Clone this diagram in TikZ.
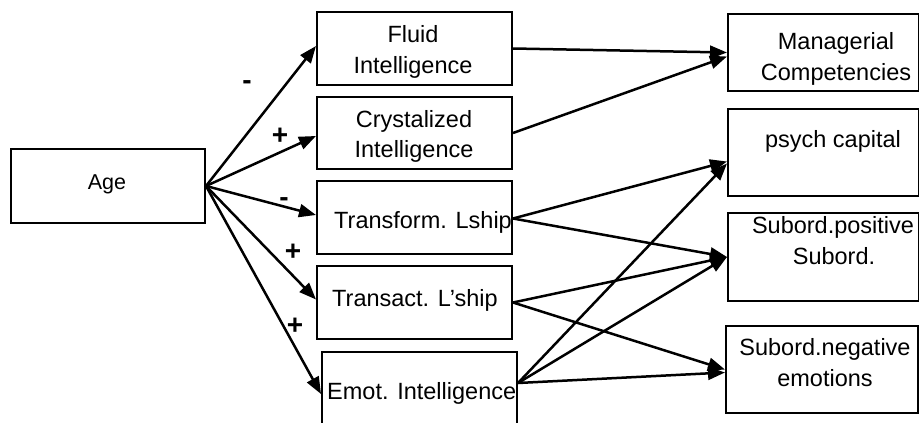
\documentclass[tikz,border=0pt]{standalone}
\usepackage{fontspec}
\setmainfont{Liberation Sans}
\usetikzlibrary{arrows.meta}
\tikzstyle{qbox}=[rectangle, draw, line width=2pt, anchor=north west, inner sep=0pt]
\tikzstyle{qtxt}=[anchor=base, inner sep=0pt, font=\fontsize{23.5}{31}\selectfont]
\tikzstyle{qsgn}=[inner sep=0pt, font=\fontsize{28}{32}\selectfont\bfseries]
\tikzstyle{qarr}=[line width=2.5pt, -{Triangle[length=17pt,width=13pt]}]

\begin{document}
\begin{tikzpicture}[x=1pt,y=-1pt]
  \useasboundingbox (0,0) rectangle (919,423);
  % left box
  \node[qbox, minimum width=194pt, minimum height=74pt] (age) at (10,148) {};
  \node[qtxt, font=\fontsize{21.5}{28}\selectfont] (agetxt) at (107,189) {Age};
  % middle column
  \node[qbox, minimum width=195pt, minimum height=73pt] (fluid) at (316,11) {};
  \node[qbox, minimum width=195pt, minimum height=72pt] (crys) at (316,96) {};
  \node[qbox, minimum width=195pt, minimum height=73pt] (trf) at (316,180) {};
  \node[qbox, minimum width=195pt, minimum height=73pt] (trs) at (316,265) {};
  \node[qbox, minimum width=195pt, minimum height=75pt] (emot) at (321,351) {};
  \node[qtxt] (fluidA) at (413,42) {Fluid};
  \node[qtxt] (fluidB) at (413,73) {Intelligence};
  \node[qtxt] (crysA) at (414,127) {Crystalized};
  \node[qtxt] (crysB) at (414,157) {Intelligence};
  \node[qtxt, anchor=base west] (trftxt) at (334,228) {Transform. Lship};
  \node[qtxt, anchor=base west] (trstxt) at (332,306) {Transact. L’ship};
  \node[qtxt, anchor=base west] (emottxt) at (327,399) {Emot. Intelligence};
  % right column
  \node[qbox, minimum width=191pt, minimum height=77pt] (mgr) at (727,13) {};
  \node[qbox, minimum width=191pt, minimum height=87pt] (psy) at (727,108) {};
  \node[qbox, minimum width=191pt, minimum height=88pt] (pos) at (727,212) {};
  \node[qbox, minimum width=192pt, minimum height=87pt] (neg) at (725,325) {};
  \node[qtxt] (mgrA) at (836,49) {Managerial};
  \node[qtxt] (mgrB) at (836,80) {Competencies};
  \node[qtxt] (psytxt) at (833,147) {psych capital};
  \node[qtxt] (posA) at (833,233) {Subord.positive};
  \node[qtxt] (posB) at (834,264) {Subord.};
  \node[qtxt] (negA) at (825,355) {Subord.negative};
  \node[qtxt] (negB) at (825,386) {emotions};

  % age paths
  \draw[qarr] (age.east) -- ([yshift=2.5pt]fluid.west);
  \draw[qarr] (age.east) -- ([yshift=-3pt]crys.west);
  \draw[qarr] (age.east) -- ([yshift=2.5pt]trf.west);
  \draw[qarr] (age.east) -- ([yshift=3pt]trs.west);
  \draw[qarr] (age.east) -- ([yshift=-4.5pt]emot.west);
  \node[qsgn] (s1) at (247,85) {-};
  \node[qsgn] (s2) at (280,136) {+};
  \node[qsgn] (s3) at (284,202) {-};
  \node[qsgn] (s4) at (293,252) {+};
  \node[qsgn] (s5) at (295,326) {+};

  % outcome paths
  \draw[qarr] (fluid.east) -- (mgr.west);
  \draw[qarr] (crys.east) -- ([yshift=-4pt]mgr.west);
  \draw[qarr] ([yshift=-1pt]trf.east) -- ([yshift=-9pt]psy.west);
  \draw[qarr] ([yshift=-1pt]trf.east) -- (pos.west);
  \draw[qarr] (trs.east) -- (pos.west);
  \draw[qarr] (trs.east) -- (neg.west);
  \draw[qarr] ([yshift=6.5pt]emot.east) -- ([yshift=-11pt]psy.west);
  \draw[qarr] ([yshift=6.5pt]emot.east) -- (pos.west);
  \draw[qarr] ([yshift=6.5pt]emot.east) -- ([yshift=-3pt]neg.west);
\end{tikzpicture}
\end{document}
